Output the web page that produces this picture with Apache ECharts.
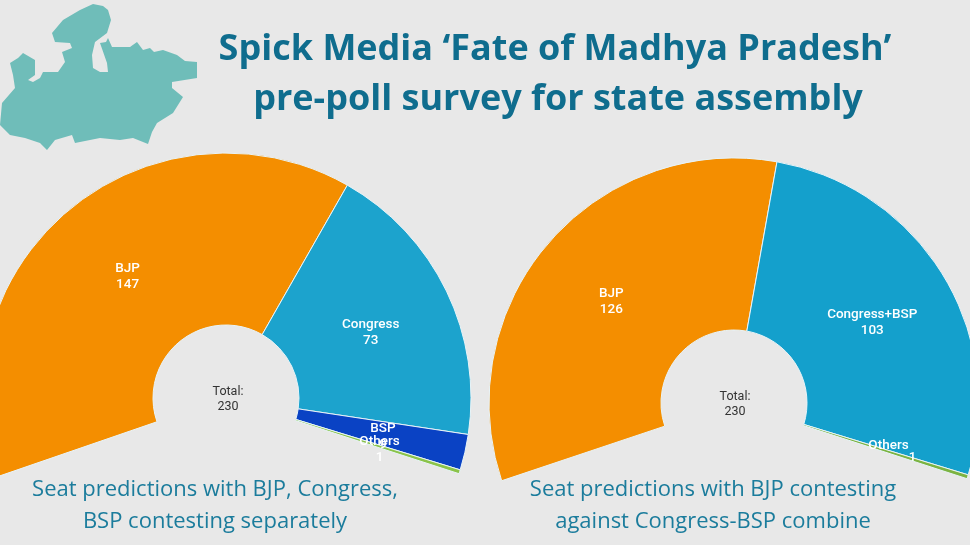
<!DOCTYPE html>
<html>
<head>
<meta charset="utf-8">
<style>
    html, body { margin: 0; padding: 0; background: #e8e8e8; }
    #chart { width: 970px; height: 545px; }
</style>
</head>
<body>
<div id="chart"></div>
<script src="https://cdn.jsdelivr.net/npm/echarts@6/dist/echarts.min.js"></script>
<script>
const separateParties = ['BJP', 'Congress', 'BSP', 'Others']
const separateSeats = [147, 73, 9, 1]
const separateColors = ['#f48e00', '#1ca3cd', '#0a42c4', '#8bc34a']

const combineParties = ['BJP', 'Congress+BSP', 'Others']
const combineSeats = [126, 103, 1]
const combineColors = ['#f48e00', '#14a0cc', '#7cb342']

const totalSeats = 230
const titleLines = ['Spick Media ‘Fate of Madhya Pradesh’', 'pre-poll survey for state assembly']
const captionLeft = ['Seat predictions with BJP, Congress,', 'BSP contesting separately']
const captionRight = ['Seat predictions with BJP contesting', 'against Congress-BSP combine']

// outline of the state, decoration only
const stateOutline = [
    [93, 4], [103, 6], [108, 10], [111, 20], [107, 33], [95, 42], [92, 55], [93, 68], [100, 72], [108, 72],
    [107, 63], [100, 43], [106, 42], [108, 38], [112, 47], [122, 47], [130, 47], [137, 42], [143, 50], [150, 48],
    [154, 52], [163, 50], [177, 55], [185, 61], [197, 62], [197, 78], [172, 82], [172, 88], [183, 97], [173, 113],
    [157, 123], [152, 132], [148, 144], [133, 138], [120, 140], [100, 138], [75, 143], [72, 135], [55, 140], [47, 150],
    [40, 143], [25, 138], [10, 135], [0, 125], [2, 103], [15, 88], [13, 75], [10, 63], [18, 58], [23, 53],
    [35, 60], [35, 75], [28, 80], [33, 82], [40, 78], [43, 72], [58, 72], [65, 62], [62, 52], [72, 48],
    [70, 43], [55, 42], [52, 33], [63, 20], [80, 10],
]

function buildPie(names, values, colors, center, endAngles, labelShift) {
    return {
        type: 'pie',
        center: center,
        radius: [73, 245],
        startAngle: endAngles[0],
        endAngle: endAngles[1],
        silent: true,
        animation: false,
        avoidLabelOverlap: false,
        labelLayout: { hideOverlap: false },
        itemStyle: { borderColor: '#e8f4f8', borderWidth: 1 },
        labelLine: { show: false },
        label: {
            position: 'inside',
            color: '#fff',
            fontFamily: 'Roboto',
            fontSize: 13.5,
            fontWeight: 500,
            lineHeight: 16,
            formatter: '{b}\n{c}',
        },
        data: names.map((name, i) => ({
            name: name,
            value: values[i],
            itemStyle: { color: colors[i] },
            label: { offset: labelShift[i] },
        })),
    }
}

function textBlock(lines, x, y, lineGap, style) {
    return lines.map((line, i) => ({
        type: 'text',
        x: x,
        y: y + i * lineGap,
        style: Object.assign({ text: line, align: 'center', verticalAlign: 'middle' }, style),
    }))
}

const chart = echarts.init(document.getElementById('chart'))
const titleStyle = { fill: '#0f6d8e', fontFamily: 'Open Sans', fontSize: 36, fontWeight: 700 }
const captionStyle = { fill: '#1b7c9c', fontFamily: 'Open Sans', fontSize: 22 }
const totalStyle = { fill: '#333', fontFamily: 'Roboto', fontSize: 12.5 }

const leftPie = buildPie(separateParties, separateSeats, separateColors, [226, 398], [199, -18],
    [[5, 3], [-1, 5], [-1, 3], [-1, 3]])
const rightPie = buildPie(combineParties, combineSeats, combineColors, [734, 403], [198.5, -18],
    [[0, 4], [0, 4], [0, -2]])
// the "1" of the right chart sits off to the side of its name
rightPie.data[2].label.formatter = '{b}\n{v|{c}}'
rightPie.data[2].label.rich = { v: { color: '#fff', fontFamily: 'Roboto', fontSize: 13, padding: [0, 0, 0, 48], lineHeight: 8 } }

chart.setOption({
    backgroundColor: '#e8e8e8',
    series: [leftPie, rightPie],
    graphic: [
        {
            type: 'polygon',
            shape: { points: stateOutline },
            style: { fill: '#6fbdb9' },
        },
        ...textBlock(titleLines.slice(0, 1), 555, 50, 0, titleStyle),
        ...textBlock(titleLines.slice(1), 558, 100, 0, titleStyle),
        ...textBlock(captionLeft, 215, 490, 32, captionStyle),
        ...textBlock(captionRight, 713, 490, 32, captionStyle),
        ...textBlock(['Total:', String(totalSeats)], 228, 392, 15, totalStyle),
        ...textBlock(['Total:', String(totalSeats)], 735, 397, 15, totalStyle),
    ],
})
</script>
</body>
</html>
